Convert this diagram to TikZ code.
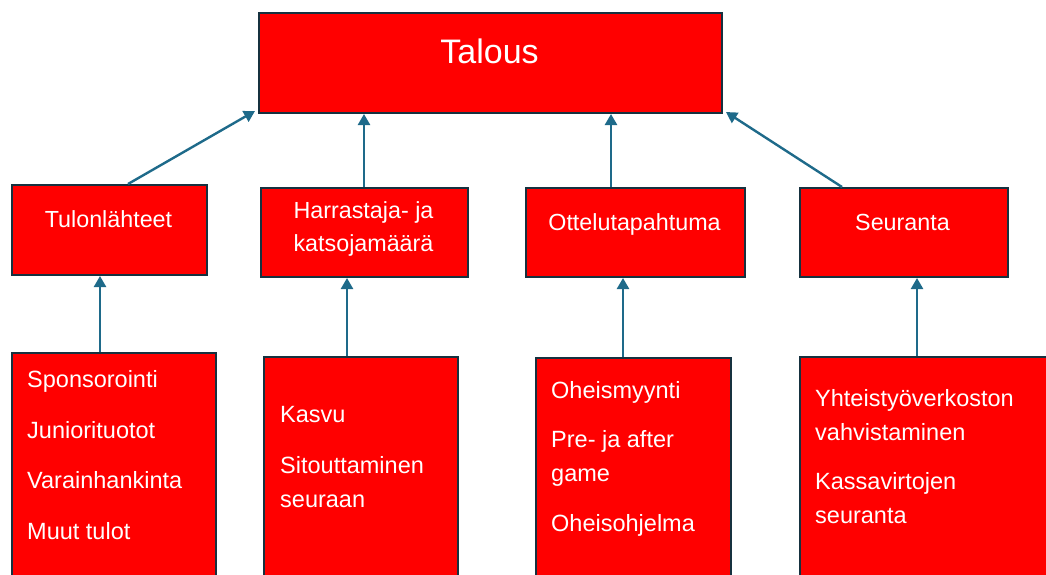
\documentclass[tikz,border=0pt]{standalone}
\usepackage{fontspec}
\setmainfont{Liberation Sans}
\usetikzlibrary{arrows.meta}
\definecolor{boxred}{HTML}{FF0000}
\definecolor{boxline}{HTML}{16313F}
\definecolor{arrline}{HTML}{1E6A8A}
\tikzset{
  box/.style={draw=boxline, line width=2pt, fill=boxred, inner sep=0pt, anchor=north west},
  arr/.style={draw=arrline, line width=2.4pt, -{Triangle[width=12pt,length=11pt]}},
  toptxt/.style={text=white, font=\fontsize{34}{40}\selectfont, inner sep=0pt, anchor=base},
  midtxt/.style={text=white, font=\fontsize{23.3}{33}\selectfont, inner sep=0pt, anchor=base, align=center},
  subtxt/.style={text=white, font=\fontsize{23.5}{34}\selectfont, inner sep=0pt, anchor=base west, align=left},
}
\begin{document}
\begin{tikzpicture}[x=1pt,y=-1pt]
\useasboundingbox (0,0) rectangle (1046,574);
% top
\node[box, minimum width=463pt, minimum height=100pt] (top) at (258,12) {};
\node[toptxt] (toptext) at (489.5,63) {Talous};
% middle boxes
\node[box, minimum width=195pt, minimum height=90pt] (t1) at (11,184) {};
\node[box, minimum width=207pt, minimum height=89pt] (t2) at (260,187) {};
\node[box, minimum width=219pt, minimum height=89pt] (t3) at (525,187) {};
\node[box, minimum width=208pt, minimum height=89pt] (t4) at (799,187) {};
\node[midtxt] (t1text) at (108.5,227) {Tulonlähteet};
\node[midtxt] (t2text) at (363.5,251) {Harrastaja- ja\\katsojamäärä};
\node[midtxt] (t3text) at (634.5,230) {Ottelutapahtuma};
\node[midtxt] (t4text) at (902.5,230) {Seuranta};
% bottom boxes
\node[box, minimum width=204pt, minimum height=240pt] (b1) at (11,352) {};
\node[box, minimum width=194pt, minimum height=240pt] (b2) at (263,356) {};
\node[box, minimum width=195pt, minimum height=240pt] (b3) at (535,357) {};
\node[box, minimum width=255pt, minimum height=240pt] (b4) at (799,356) {};
\node[subtxt] (b1text) at (27,539) {Sponsorointi\\[16.5pt]Juniorituotot\\[16.5pt]Varainhankinta\\[16.5pt]Muut tulot};
\node[subtxt] (b2text) at (280,507) {Kasvu\\[17pt]Sitouttaminen\\seuraan};
\node[subtxt] (b3text) at (551,531) {Oheismyynti\\[15pt]Pre- ja after\\game\\[16pt]Oheisohjelma};
\node[subtxt] (b4text) at (815,523) {Yhteistyöverkoston\\vahvistaminen\\[15pt]Kassavirtojen\\seuranta};
% arrows bottom -> middle
\draw[arr] ([xshift=89pt]b1.north west) -- ([xshift=89pt]t1.south west);
\draw[arr] ([xshift=84pt]b2.north west) -- ([xshift=84pt]b2.north west |- t2.south);
\draw[arr] ([xshift=88pt]b3.north west) -- ([xshift=88pt]b3.north west |- t3.south);
\draw[arr] ([xshift=118pt]b4.north west) -- ([xshift=118pt]t4.south west);
% arrows middle -> top
\draw[arr] ([xshift=117pt]t1.north west) -- ([xshift=-3pt,yshift=3pt]top.south west);
\draw[arr] ([xshift=104pt]t2.north west) -- ([xshift=104pt]t2.north west |- top.south);
\draw[arr] ([xshift=86pt]t3.north west) -- ([xshift=86pt]t3.north west |- top.south);
\draw[arr] ([xshift=43pt]t4.north west) -- ([xshift=3pt,yshift=2pt]top.south east);
\end{tikzpicture}
\end{document}
